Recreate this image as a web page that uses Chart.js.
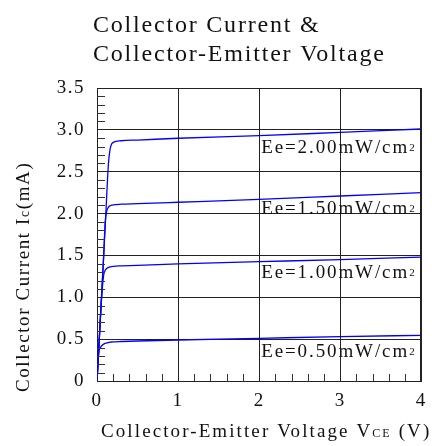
<!DOCTYPE html>
<html>
<head>
<meta charset="utf-8">
<script src="https://cdn.jsdelivr.net/npm/chart.js@4/dist/chart.umd.min.js"></script>
<style>
  html, body { margin: 0; padding: 0; background: #ffffff; }
  #wrap { width: 435px; height: 446px; position: relative; }
</style>
</head>
<body>
<div id="wrap"><canvas id="c"></canvas></div>
<script>
// ---- Data ----
const vceVolts = [0, 0.01, 0.02, 0.05, 0.08, 0.10, 0.12, 0.14, 0.16, 0.18, 0.20, 0.30, 0.50, 1, 2, 3, 4];
const icEe050 = [0, 0.18, 0.33, 0.41, 0.44, 0.45, 0.455, 0.46, 0.463, 0.466, 0.468, 0.472, 0.478, 0.49, 0.51, 0.53, 0.546];
const icEe100 = [0, 0.18, 0.35, 0.90, 1.25, 1.32, 1.345, 1.355, 1.362, 1.367, 1.37, 1.375, 1.38, 1.40, 1.425, 1.45, 1.48];
const icEe150 = [0, 0.18, 0.35, 0.90, 1.45, 1.88, 2.03, 2.075, 2.093, 2.10, 2.105, 2.112, 2.118, 2.135, 2.17, 2.21, 2.25];
const icEe200 = [0, 0.18, 0.35, 0.90, 1.45, 1.82, 2.22, 2.58, 2.76, 2.83, 2.85, 2.87, 2.878, 2.90, 2.93, 2.97, 3.01];

const seriesNames = ['Ee=0.50mW/cm', 'Ee=1.00mW/cm', 'Ee=1.50mW/cm', 'Ee=2.00mW/cm'];
const labelAnchorVolt = 2.0;
const labelAnchorMA = [0.29, 1.23, 1.995, 2.72];

const xTickValues = [0, 1, 2, 3, 4];
const yTickLabels = ['0', '0.5', '1.0', '1.5', '2.0', '2.5', '3.0', '3.5'];

const titleLines = ['Collector Current &', 'Collector-Emitter Voltage'];

// ---- Build datasets ----
const seriesValues = [icEe050, icEe100, icEe150, icEe200];
const datasets = seriesValues.map((vals, i) => ({
  label: seriesNames[i],
  data: vceVolts.map((v, k) => ({ x: v, y: vals[k] })),
  borderColor: '#0000ff',
  borderWidth: 1.3,
  pointRadius: 0,
  fill: false,
  cubicInterpolationMode: 'monotone'
}));

const SERIF = '"Liberation Serif", "Times New Roman", serif';

function drawSpaced(ctx, parts, x, y, spacing) {
  let cx = x;
  ctx.letterSpacing = spacing + 'px';
  for (const p of parts) {
    ctx.font = p.size + 'px ' + SERIF;
    ctx.fillText(p.t, cx, y + (p.dy || 0));
    cx += ctx.measureText(p.t).width;
  }
}

const decorPlugin = {
  id: 'decor',
  beforeDraw(chart) {
    chart.ctx.letterSpacing = '1.5px';
  },
  afterDraw(chart) {
    const ctx = chart.ctx;
    const xs = chart.scales.x, ys = chart.scales.y;
    const a = chart.chartArea;
    ctx.save();
    // frame (top/right)
    ctx.strokeStyle = '#222';
    ctx.lineWidth = 1;
    ctx.beginPath();
    ctx.moveTo(a.left, Math.round(a.top) + 0.5);
    ctx.lineTo(a.right, Math.round(a.top) + 0.5);
    ctx.moveTo(Math.round(a.right) - 0.5, a.top);
    ctx.lineTo(Math.round(a.right) - 0.5, a.bottom);
    ctx.stroke();
    // minor ticks on y axis (inside)
    ctx.strokeStyle = '#333';
    ctx.beginPath();
    for (let k = 1; k < 35; k++) {
      if (k % 5 === 0) continue;
      const py = Math.round(ys.getPixelForValue(k / 10)) + 0.5;
      ctx.moveTo(a.left, py);
      ctx.lineTo(a.left + 8, py);
    }
    // minor ticks on x axis (inside)
    for (let k = 1; k < 20; k++) {
      if (k % 5 === 0) continue;
      const px = Math.round(xs.getPixelForValue(k / 5)) + 0.5;
      ctx.moveTo(px, a.bottom);
      ctx.lineTo(px, a.bottom - 7);
    }
    ctx.stroke();

    ctx.fillStyle = '#111';
    ctx.textBaseline = 'alphabetic';
    ctx.textAlign = 'left';
    // series annotations
    for (let i = 0; i < seriesNames.length; i++) {
      const px = xs.getPixelForValue(labelAnchorVolt) + 2;
      const py = ys.getPixelForValue(labelAnchorMA[i]);
      drawSpaced(ctx, [{ t: seriesNames[i], size: 19 }, { t: '2', size: 11, dy: -2 }], px, py, 1.9);
    }
    // title
    drawSpaced(ctx, [{ t: titleLines[0], size: 24 }], 93, 32, 1.8);
    drawSpaced(ctx, [{ t: titleLines[1], size: 24 }], 93, 61, 1.8);
    // x axis title
    drawSpaced(ctx, [
      { t: 'Collector-Emitter Voltage V', size: 19 },
      { t: 'CE', size: 12 },
      { t: ' (V)', size: 19 }
    ], 101, 437, 2.1);
    // y axis title
    ctx.translate(29, 392);
    ctx.rotate(-Math.PI / 2);
    drawSpaced(ctx, [
      { t: 'Collector Current I', size: 19 },
      { t: 'c', size: 14 },
      { t: '(mA)', size: 19 }
    ], 0, 0, 1.6);
    ctx.restore();
  }
};

new Chart(document.getElementById('c'), {
  type: 'line',
  data: { datasets },
  options: {
    responsive: true,
    maintainAspectRatio: false,
    animation: false,
    events: [],
    layout: { padding: { top: 88, right: 8, left: 0, bottom: 0 } },
    plugins: { legend: { display: false }, tooltip: { enabled: false }, title: { display: false } },
    scales: {
      x: {
        type: 'linear',
        min: 0, max: 4,
        afterFit(scale) { scale.height = 65; },
        afterBuildTicks(scale) { scale.ticks = xTickValues.map(v => ({ value: v })); },
        ticks: {
          color: '#111',
          font: { family: SERIF, size: 19 },
          padding: 9,
          maxRotation: 0,
          callback: (v) => String(v)
        },
        grid: { color: '#222', lineWidth: 1, drawTicks: false },
        border: { display: true, color: '#222', width: 1 }
      },
      y: {
        type: 'linear',
        min: 0, max: 3.5,
        afterFit(scale) { scale.width = 97; },
        afterBuildTicks(scale) { scale.ticks = yTickLabels.map(t => ({ value: parseFloat(t) })); },
        ticks: {
          color: '#111',
          font: { family: SERIF, size: 19 },
          padding: 12,
          callback: (v) => yTickLabels.find(t => parseFloat(t) === v) || ''
        },
        grid: { color: '#222', lineWidth: 1, drawTicks: false },
        border: { display: true, color: '#222', width: 1 }
      }
    }
  },
  plugins: [decorPlugin]
});
</script>
</body>
</html>
